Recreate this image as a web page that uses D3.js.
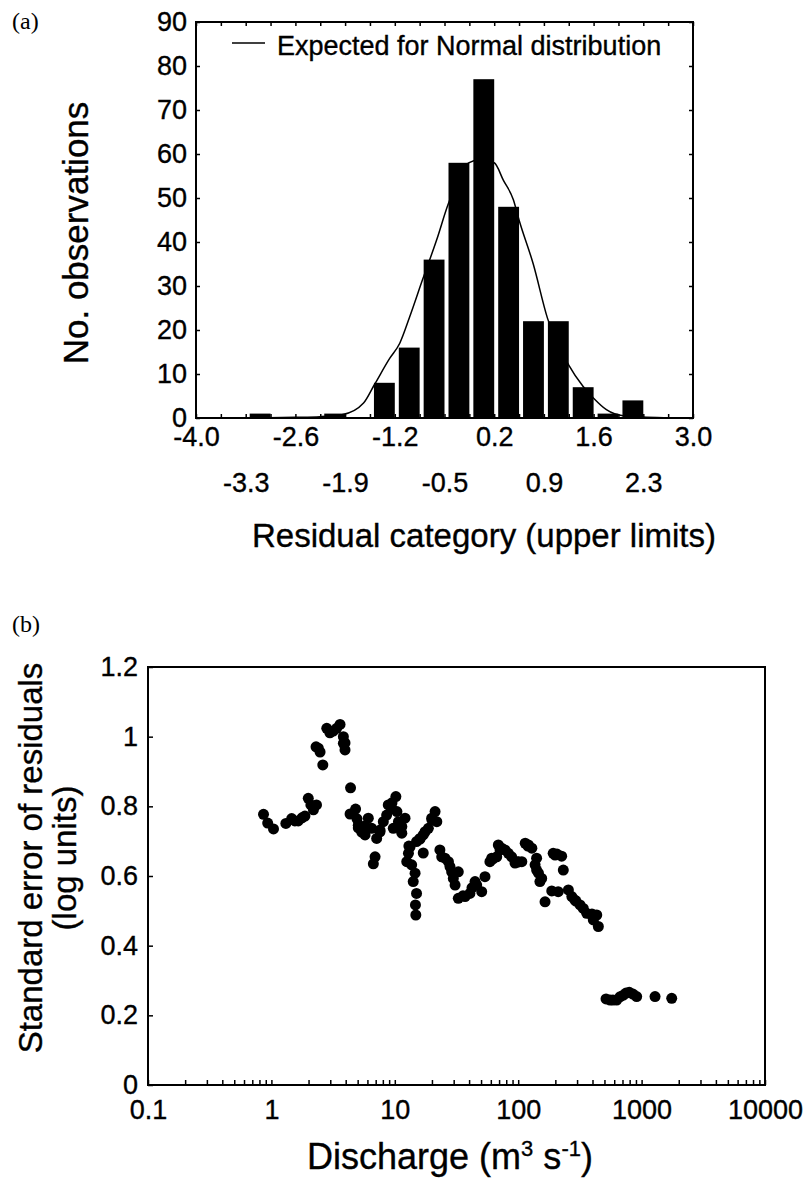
<!DOCTYPE html>
<html>
<head>
<meta charset="utf-8">
<script src="https://cdn.jsdelivr.net/npm/d3@7"></script>
<style>
body { margin: 0; background: #fff; }
svg text { font-family: "Liberation Sans", Arial, Helvetica, sans-serif; fill: #000; stroke: #000; stroke-width: 0.35px; }
svg .panel { font-family: "Liberation Serif", "Times New Roman", serif; stroke-width: 0; }
</style>
</head>
<body>
<div id="chart"></div>
<script>
// (a) residual histogram - categories are the upper limits of 0.35 wide bins
var binUpper = [-3.65, -3.3, -2.95, -2.6, -2.25, -1.9, -1.55, -1.2, -0.85, -0.5,
                -0.15, 0.2, 0.55, 0.9, 1.25, 1.6, 1.95, 2.3, 2.65, 3.0];
var binCounts = [0, 0, 1, 0, 0, 1, 0, 8, 16, 36, 58, 77, 48, 22, 22, 7, 1, 4, 0, 0];
var binWidth = 0.35;
var xLabelsRow1 = [-4.0, -2.6, -1.2, 0.2, 1.6, 3.0];
var xLabelsRow2 = [-3.3, -1.9, -0.5, 0.9, 2.3];
var countTicks = [0, 10, 20, 30, 40, 50, 60, 70, 80, 90];

// expected counts for a normal distribution
var normalX = [-4.0, -3.0, -2.6, -2.25, -1.93, -1.64, -1.49, -1.27, -1.13, -0.99, -0.81, -0.61, -0.45,
               -0.16, 0.0, 0.2, 0.33, 0.47, 0.55, 0.75, 0.95, 1.25, 1.45, 1.6, 1.78, 2.02, 2.49, 3.0];
var normalY = [0, 0.05, 0.15, 0.3, 0.8, 3.4, 7.5, 13.6, 17, 23, 31.4, 40.5, 48.5,
               58, 58.7, 58, 54, 49.6, 45, 35, 22.7, 12, 7.2, 4.5, 1.9, 0.5, 0.1, 0];

// (b) standard error of residuals against discharge
var discharge = [0.863, 0.933, 1.04, 1.31, 1.46, 1.55, 1.65, 1.77, 1.87, 1.99, 2.09, 2.19, 2.32, 2.30, 2.40, 2.48, 2.61,
                 2.81, 2.98, 3.17, 3.38, 3.60, 3.83, 3.83, 3.95, 3.95, 4.38, 4.34, 4.81, 4.94, 5.06, 5.06, 5.39, 5.74,
                 5.74, 6.10, 6.50, 7.13, 6.92, 6.70, 7.59, 7.59, 8.07, 8.59, 8.85, 9.44, 9.49, 9.72, 10.2, 10.4,
                 10.7, 11.4, 11.4, 12.1, 12.5, 12.9, 13.0, 13.3, 13.7, 14.1, 14.6, 15.0, 14.7, 14.8, 15.0, 16.0,
                 16.0, 17.0, 17.0, 17.6, 18.7, 19.9, 20.0, 21.2, 21.9, 23.2, 24.0, 25.5, 27.2, 28.0, 28.9, 29.8,
                 30.8, 32.7, 32.7, 35.7, 37.1, 40.6, 42.2, 44.7, 46.1, 50.6, 53.8, 59.0, 61.0, 62.5, 67.0, 69.0,
                 71.3, 73.5, 78.2, 83.2, 88.5, 94.2, 99.6, 100, 107, 114, 120, 121, 129, 137, 141, 141,
                 146, 150, 155, 165, 187, 192, 199, 206, 211, 225, 232, 255, 272, 288, 294, 317,
                 337, 359, 394, 396, 406, 433, 446,
                 515, 555, 586, 628, 668, 711, 748, 794, 851, 912, 1285, 1754];
var stdError = [0.777, 0.752, 0.735, 0.751, 0.765, 0.758, 0.758, 0.767, 0.772, 0.823, 0.804, 0.790, 0.804, 0.971, 0.967, 0.956, 0.919,
                1.024, 1.011, 1.016, 1.024, 1.035, 1.000, 0.981, 0.962, 0.982, 0.853, 0.778, 0.792, 0.764, 0.738, 0.746, 0.726, 0.744,
                0.718, 0.766, 0.737, 0.708, 0.655, 0.635, 0.732, 0.727, 0.756, 0.775, 0.804, 0.794, 0.810, 0.737, 0.828, 0.785,
                0.756, 0.723, 0.742, 0.766, 0.641, 0.665, 0.686, 0.684, 0.632, 0.584, 0.608, 0.550, 0.517, 0.488, 0.699, 0.706,
                0.708, 0.718, 0.666, 0.727, 0.737, 0.766, 0.761, 0.785, 0.756, 0.675, 0.655, 0.651, 0.641, 0.627, 0.612, 0.593,
                0.574, 0.536, 0.612, 0.543, 0.541, 0.550, 0.566, 0.584, 0.574, 0.555, 0.598, 0.641, 0.651, 0.649, 0.655, 0.689,
                0.675, 0.680, 0.675, 0.665, 0.655, 0.637, 0.640, 0.641, 0.641, 0.694, 0.686, 0.689, 0.680, 0.632, 0.617, 0.651,
                0.608, 0.584, 0.593, 0.526, 0.557, 0.665, 0.660, 0.663, 0.555, 0.657, 0.617, 0.560, 0.541, 0.531, 0.528, 0.517,
                0.507, 0.493, 0.488, 0.491, 0.474, 0.488, 0.455,
                0.247, 0.244, 0.244, 0.244, 0.253, 0.258, 0.264, 0.266, 0.261, 0.254, 0.254, 0.249];
var seTicks = [0, 0.2, 0.4, 0.6, 0.8, 1, 1.2];
var dischargeTicks = [0.1, 1, 10, 100, 1000, 10000];

function init(){
    var w = 808, h = 1178;
    var svg = d3.select("#chart").append("svg")
        .attr("width", w)
        .attr("height", h);

    // ---------- (a) ----------
    var xA = d3.scaleLinear().domain([-4, 3]).range([196, 693]);
    var yA = d3.scaleLinear().domain([0, 90]).range([418, 22]);
    var edges = [-4.0].concat(binUpper);

    var bars = binUpper.map(function(u, i){ return {lo: u - binWidth, hi: u, n: binCounts[i]}; })
        .filter(function(d){ return d.n > 0; });

    svg.append("g").selectAll("rect")
        .data(bars)
        .enter().append("rect")
        .attr("x", function(d){ return xA(d.lo) + 4; })
        .attr("y", function(d){ return yA(d.n); })
        .attr("width", function(d){ return xA(d.hi) - xA(d.lo) - 4; })
        .attr("height", function(d){ return yA(0) - yA(d.n); })
        .attr("fill", "#000");

    var normalLine = d3.line()
        .x(function(d){ return xA(d[0]); })
        .y(function(d){ return yA(d[1]); })
        .curve(d3.curveMonotoneX);

    svg.append("path")
        .datum(d3.zip(normalX, normalY))
        .attr("d", normalLine)
        .attr("fill", "none")
        .attr("stroke", "#000")
        .attr("stroke-width", 1.5);

    // ticks, all pointing into the plot
    var styleAxis = function(g){
        g.attr("font-size", 27);
        g.select(".domain").remove();
        g.selectAll("line").attr("stroke-width", 1.5);
    };
    svg.append("g").attr("transform", "translate(0,418)")
        .call(d3.axisBottom(xA).tickValues(edges).tickSize(-4).tickFormat(""))
        .call(styleAxis);
    svg.append("g").attr("transform", "translate(0,22)")
        .call(d3.axisTop(xA).tickValues(edges).tickSize(-4).tickFormat(""))
        .call(styleAxis);
    svg.append("g").attr("transform", "translate(0,418)")
        .call(d3.axisBottom(xA).tickValues(xLabelsRow1).tickSize(0).tickPadding(9)
            .tickFormat(function(d){ return d.toFixed(1); }))
        .call(styleAxis);
    svg.append("g").attr("transform", "translate(0,418)")
        .call(d3.axisBottom(xA).tickValues(xLabelsRow2).tickSize(0).tickPadding(55)
            .tickFormat(function(d){ return d.toFixed(1); }))
        .call(styleAxis);
    svg.append("g").attr("transform", "translate(196,0)")
        .call(d3.axisLeft(yA).tickValues(countTicks).tickSize(-4).tickPadding(9))
        .call(styleAxis);
    svg.append("g").attr("transform", "translate(693,0)")
        .call(d3.axisRight(yA).tickValues(countTicks).tickSize(-4).tickFormat(""))
        .call(styleAxis);

    svg.append("rect")
        .attr("x", 196).attr("y", 22)
        .attr("width", 693 - 196).attr("height", 418 - 22)
        .attr("fill", "none").attr("stroke", "#000").attr("stroke-width", 2);

    // legend
    svg.append("line")
        .attr("x1", 232).attr("x2", 265).attr("y1", 43).attr("y2", 43)
        .attr("stroke", "#000").attr("stroke-width", 1.5);
    svg.append("text")
        .attr("x", 277).attr("y", 55)
        .attr("font-size", 27)
        .text("Expected for Normal distribution");

    svg.append("text")
        .attr("transform", "translate(88,233) rotate(-90)")
        .attr("text-anchor", "middle")
        .attr("font-size", 35)
        .text("No. observations");
    svg.append("text")
        .attr("x", 484).attr("y", 547)
        .attr("text-anchor", "middle")
        .attr("font-size", 33)
        .text("Residual category (upper limits)");
    svg.append("text").attr("class", "panel")
        .attr("x", 12).attr("y", 29)
        .attr("font-size", 24)
        .text("(a)");

    // ---------- (b) ----------
    var xB = d3.scaleLog().domain([0.1, 10000]).range([148, 765]);
    var yB = d3.scaleLinear().domain([0, 1.2]).range([1085, 667]);

    svg.append("g").attr("transform", "translate(0,1085)")
        .call(d3.axisBottom(xB).tickValues(xB.ticks()).tickSize(-5).tickFormat(""))
        .call(styleAxis);
    svg.append("g").attr("transform", "translate(0,1085)")
        .call(d3.axisBottom(xB).tickValues(dischargeTicks).tickSize(0).tickPadding(15)
            .tickFormat(function(d){ return String(d); }))
        .call(styleAxis);
    svg.append("g").attr("transform", "translate(148,0)")
        .call(d3.axisLeft(yB).tickValues(seTicks).tickSize(-5).tickPadding(10)
            .tickFormat(function(d){ return String(d); }))
        .call(styleAxis);

    svg.append("rect")
        .attr("x", 148).attr("y", 667)
        .attr("width", 765 - 148).attr("height", 1085 - 667)
        .attr("fill", "none").attr("stroke", "#000").attr("stroke-width", 2);

    svg.append("g").selectAll("circle")
        .data(d3.zip(discharge, stdError))
        .enter().append("circle")
        .attr("cx", function(d){ return xB(d[0]); })
        .attr("cy", function(d){ return yB(d[1]); })
        .attr("r", 5.5)
        .attr("fill", "#000");

    var yTitle = svg.append("text")
        .attr("transform", "translate(42,858) rotate(-90)")
        .attr("text-anchor", "middle")
        .attr("font-size", 33);
    yTitle.append("tspan").attr("x", 0).attr("y", 0).text("Standard error of residuals");
    yTitle.append("tspan").attr("x", 0).attr("y", 34).text("(log units)");

    var xTitle = svg.append("text")
        .attr("x", 450).attr("y", 1169)
        .attr("text-anchor", "middle")
        .attr("font-size", 36);
    xTitle.append("tspan").text("Discharge (m");
    xTitle.append("tspan").attr("font-size", 22).attr("dy", -13).text("3");
    xTitle.append("tspan").attr("dy", 13).text(" s");
    xTitle.append("tspan").attr("font-size", 22).attr("dy", -13).text("-1");
    xTitle.append("tspan").attr("dy", 13).text(")");

    svg.append("text").attr("class", "panel")
        .attr("x", 12).attr("y", 632)
        .attr("font-size", 24)
        .text("(b)");
}
window.onload = init;
</script>
</body>
</html>
